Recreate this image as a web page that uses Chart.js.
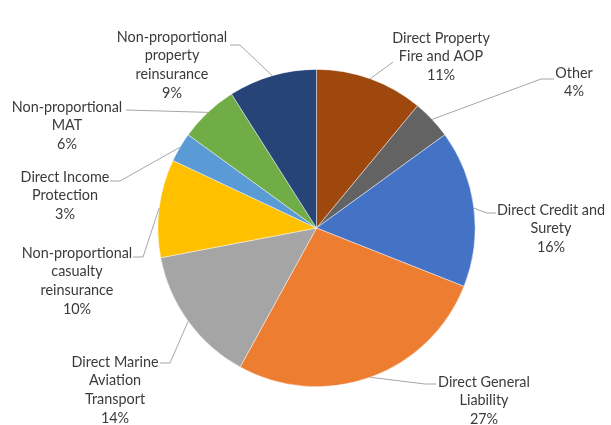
<!DOCTYPE html>
<html>
<head>
<meta charset="utf-8">
<script src="https://cdn.jsdelivr.net/npm/chart.js@4"></script>
<style>
    html, body { margin: 0; padding: 0; background: #ffffff; }
    #wrap { width: 611px; height: 425px; position: relative; }
</style>
</head>
<body>
<div id="wrap"><canvas id="carteira"></canvas></div>
<script>
// Carteira por linha de negócio (%)
const categorias = [
    ['Direct Property', 'Fire and AOP'],
    ['Other'],
    ['Direct Credit and', 'Surety'],
    ['Direct General', 'Liability'],
    ['Direct Marine', 'Aviation', 'Transport'],
    ['Non-proportional', 'casualty', 'reinsurance'],
    ['Direct Income', 'Protection'],
    ['Non-proportional', 'MAT'],
    ['Non-proportional', 'property', 'reinsurance']
];
const percentuais = [11, 4, 16, 27, 14, 10, 3, 6, 9];
const cores = ['#9e480e', '#636363', '#4472c4', '#ed7d31', '#a5a5a5', '#ffc000', '#5b9bd5', '#70ad47', '#264478'];

// posição dos rótulos: centro do texto, y da primeira linha, início da linha guia e cotovelo
const posRotulos = [
    { x: 441, y: 38, de: [393, 62], cotovelo: null },
    { x: 574, y: 73, de: [554, 79], cotovelo: [541, 79] },
    { x: 551, y: 210, de: [496, 213], cotovelo: [487, 213] },
    { x: 484, y: 382, de: [436, 384], cotovelo: [425, 384] },
    { x: 115, y: 362, de: [160, 363], cotovelo: [170, 363] },
    { x: 77, y: 253, de: [133, 257], cotovelo: [143, 257] },
    { x: 65, y: 177, de: [110, 181], cotovelo: [120, 181] },
    { x: 67, y: 107, de: [126, 110], cotovelo: null },
    { x: 172, y: 37, de: [230, 45], cotovelo: [240, 45] }
];

const rotulosComGuia = {
    id: 'rotulosComGuia',
    afterDatasetsDraw(chart) {
        const ctx = chart.ctx;
        const arcos = chart.getDatasetMeta(0).data;
        ctx.save();
        arcos.forEach((arco, i) => {
            const p = arco.getProps(['x', 'y', 'startAngle', 'endAngle', 'outerRadius'], true);
            const meio = (p.startAngle + p.endAngle) / 2;
            const ax = p.x + Math.cos(meio) * p.outerRadius;
            const ay = p.y + Math.sin(meio) * p.outerRadius;
            const pos = posRotulos[i];

            // linha guia
            ctx.strokeStyle = '#a6a6a6';
            ctx.lineWidth = 1;
            ctx.beginPath();
            ctx.moveTo(pos.de[0], pos.de[1]);
            if (pos.cotovelo) ctx.lineTo(pos.cotovelo[0], pos.cotovelo[1]);
            ctx.lineTo(ax, ay);
            ctx.stroke();

            // texto do rótulo
            const linhas = categorias[i].concat([percentuais[i] + '%']);
            ctx.fillStyle = '#3b3b3b';
            ctx.font = '14.4px Lato, "Open Sans", sans-serif';
            ctx.textAlign = 'center';
            ctx.textBaseline = 'middle';
            linhas.forEach((txt, k) => {
                ctx.fillText(txt, pos.x, pos.y + k * 18.7);
            });
        });
        ctx.restore();
    }
};

const ctxCarteira = document.getElementById('carteira').getContext('2d');
new Chart(ctxCarteira, {
    type: 'pie',
    data: {
        labels: categorias.map(c => c.join(' ')),
        datasets: [{
            data: percentuais,
            backgroundColor: cores,
            borderColor: 'rgba(255,255,255,0.6)',
            borderWidth: 0.75
        }]
    },
    options: {
        responsive: true,
        maintainAspectRatio: false,
        animation: false,
        layout: {
            padding: { top: 69, bottom: 38, left: 22, right: 0 }
        },
        plugins: {
            legend: { display: false },
            tooltip: { enabled: false }
        }
    },
    plugins: [rotulosComGuia]
});
</script>
</body>
</html>
